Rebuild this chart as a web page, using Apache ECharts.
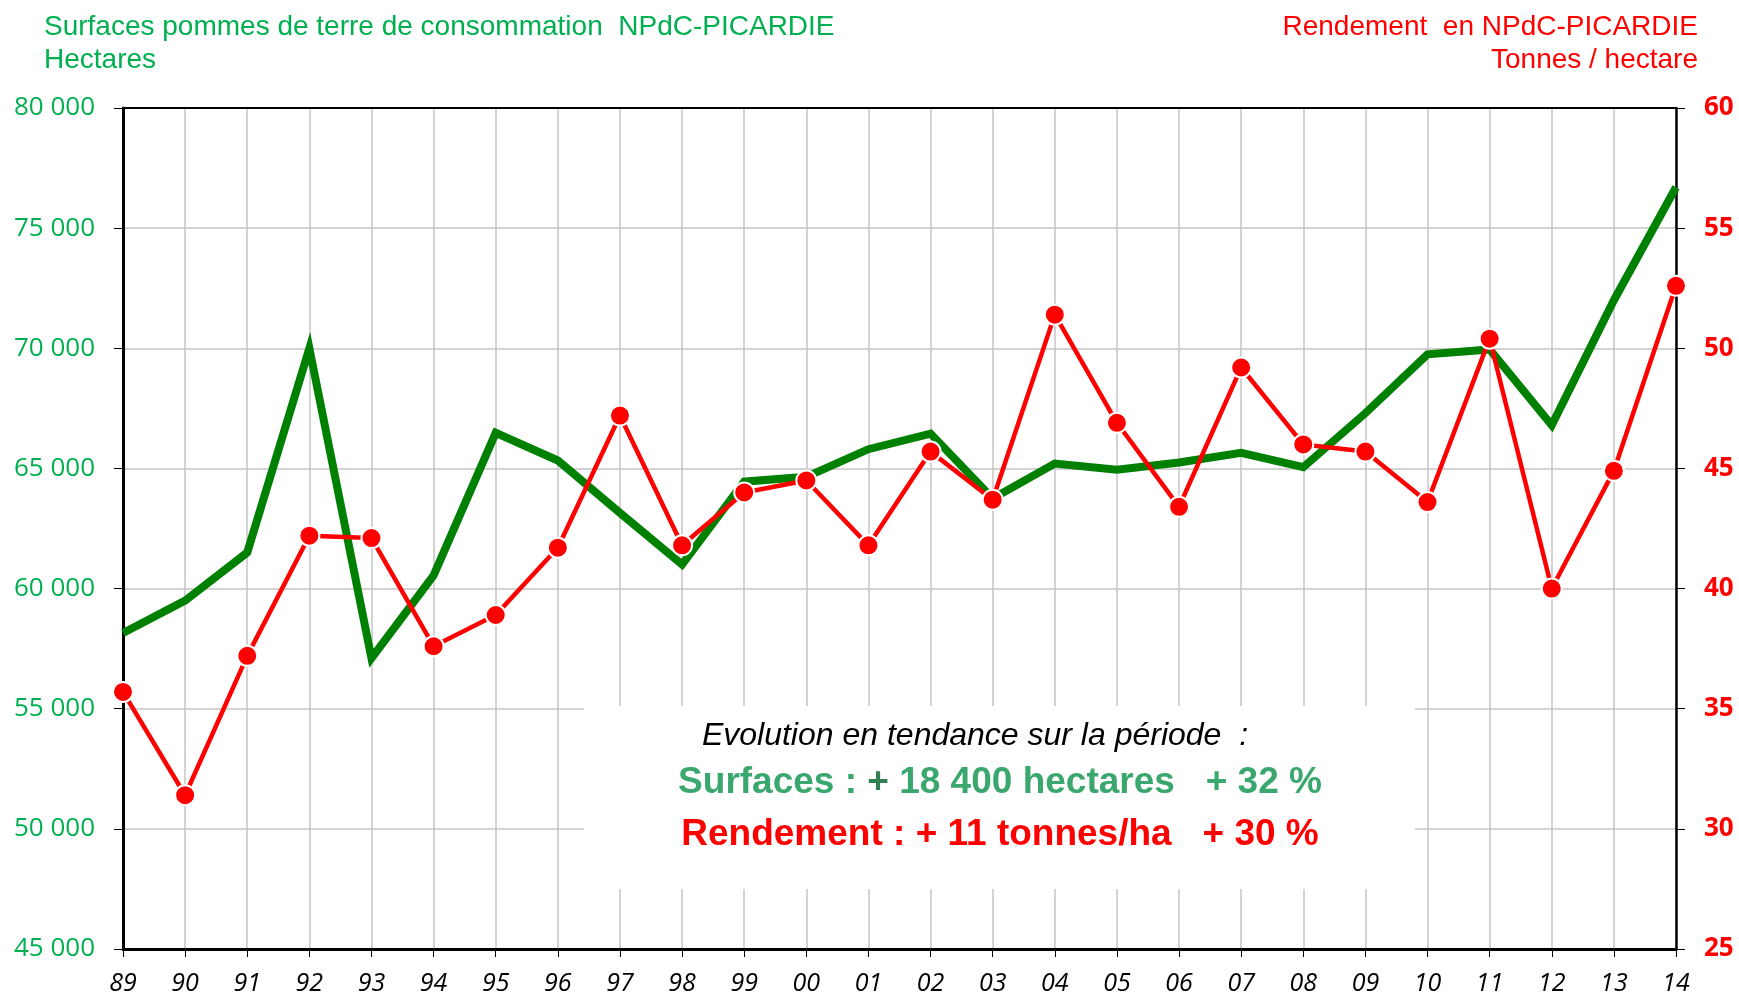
<!DOCTYPE html>
<html>
<head>
    <meta charset="utf-8">
    <title>Surfaces et rendement NPdC-Picardie</title>
    <script src="https://cdn.jsdelivr.net/npm/echarts@6/dist/echarts.min.js"></script>
    <style>
        html, body { margin: 0; padding: 0; background: #fff; }
        #main { width: 1739px; height: 996px; }
    </style>
</head>
<body>
    <div id="main"></div>
    <script type="text/javascript">
        // années (axe x)
        var years = ['89','90','91','92','93','94','95','96','97','98','99','00','01',
                     '02','03','04','05','06','07','08','09','10','11','12','13','14'];
        // surfaces en hectares (axe gauche)
        var surfaces = [58150, 59500, 61500, 70000, 57100, 60550, 66480, 65330, 63150, 61000,
                        64450, 64650, 65800, 66450, 63750, 65200, 64950, 65250, 65650, 65050,
                        67300, 69750, 69950, 66800, 72000, 76700];
        // rendement en t/ha (axe droit)
        var rendement = [35.7, 31.4, 37.2, 42.2, 42.1, 37.6, 38.9, 41.7, 47.2, 41.8,
                         44.0, 44.5, 41.8, 45.7, 43.7, 51.4, 46.9, 43.4, 49.2, 46.0,
                         45.7, 43.6, 50.4, 40.0, 44.9, 52.6];

        var myChart = echarts.init(document.getElementById('main'));

        var option = {
            backgroundColor: '#fff',
            animation: false,
            grid: { left: 123, top: 108, right: 63, bottom: 46 },
            xAxis: [
                {
                    type: 'category',
                    data: years,
                    boundaryGap: false,
                    axisLine: { lineStyle: { color: '#000', width: 3 } },
                    axisTick: { length: 8, lineStyle: { color: '#000', width: 1 } },
                    axisLabel: {
                        margin: 22, color: '#000', fontSize: 25,
                        fontStyle: 'italic', fontFamily: 'Open Sans'
                    },
                    splitLine: { show: true, lineStyle: { color: '#c4c4c4', width: 1.5 } }
                },
                {
                    // bord supérieur du cadre
                    type: 'category', data: years, boundaryGap: false, position: 'top',
                    axisLine: { lineStyle: { color: '#000', width: 2 } },
                    axisTick: { show: false }, axisLabel: { show: false },
                    splitLine: { show: false }
                }
            ],
            yAxis: [
                {
                    type: 'value', min: 45000, max: 80000, interval: 5000,
                    axisLine: { show: true, lineStyle: { color: '#000', width: 3 } },
                    axisTick: { show: true, length: 9, lineStyle: { color: '#000' } },
                    axisLabel: {
                        margin: 28, color: '#00B050', fontSize: 26, fontFamily: 'Open Sans',
                        formatter: function (v) {
                            return String(v).replace(/\B(?=(\d{3})+(?!\d))/g, ' ');
                        }
                    },
                    splitLine: { lineStyle: { color: '#c4c4c4', width: 1.5 } }
                },
                {
                    type: 'value', min: 25, max: 60, interval: 5, position: 'right',
                    axisLine: { show: true, lineStyle: { color: '#000', width: 2.5 } },
                    axisTick: { show: true, length: 9, lineStyle: { color: '#000' } },
                    axisLabel: {
                        margin: 28, color: '#FF0000', fontSize: 26,
                        fontWeight: 'bold', fontFamily: 'Open Sans'
                    },
                    splitLine: { show: false }
                }
            ],
            series: [
                {
                    name: 'Surfaces', type: 'line', yAxisIndex: 0,
                    data: surfaces, showSymbol: false, z: 3,
                    lineStyle: { color: '#008000', width: 8, join: 'miter' }
                },
                {
                    name: 'Rendement', type: 'line', yAxisIndex: 1,
                    data: rendement, symbol: 'circle', symbolSize: 20, z: 4,
                    lineStyle: { color: '#FF0000', width: 4.5 },
                    itemStyle: { color: '#FF0000', borderColor: '#fff', borderWidth: 2 }
                }
            ],
            graphic: [
                {
                    type: 'text', x: 44, y: 11, z: 10,
                    style: {
                        text: 'Surfaces pommes de terre de consommation  NPdC-PICARDIE\nHectares',
                        fill: '#00B050', font: '28px "Liberation Sans"', lineHeight: 33
                    }
                },
                {
                    type: 'text', x: 1698, y: 11, z: 10,
                    style: {
                        text: 'Rendement  en NPdC-PICARDIE',
                        fill: '#FF0000', font: '28px "Liberation Sans"',
                        lineHeight: 33, align: 'right'
                    }
                },
                {
                    type: 'text', x: 1698, y: 44, z: 10,
                    style: {
                        text: 'Tonnes / hectare',
                        fill: '#FF0000', font: '28px "Liberation Sans"',
                        lineHeight: 33, align: 'right'
                    }
                },
                {
                    type: 'rect', z: 5,
                    shape: { x: 584, y: 706, width: 831, height: 183 },
                    style: { fill: '#fff' }
                },
                {
                    type: 'text', x: 975, y: 736, z: 10,
                    style: {
                        text: 'Evolution en tendance sur la période  :',
                        fill: '#000', font: 'italic 32px "Liberation Sans"',
                        align: 'center', verticalAlign: 'middle'
                    }
                },
                {
                    type: 'text', x: 1000, y: 783, z: 10,
                    style: {
                        text: '{a|Surfaces : }{b|+ }{a|18 400 hectares   + 32 %}',
                        align: 'center', verticalAlign: 'middle',
                        rich: {
                            a: { fill: '#3AA86E', font: 'bold 37px "Liberation Sans"' },
                            b: { fill: '#2F7F52', font: 'bold 37px "Liberation Sans"' }
                        }
                    }
                },
                {
                    type: 'text', x: 1000, y: 835, z: 10,
                    style: {
                        text: 'Rendement : + 11 tonnes/ha   + 30 %',
                        fill: '#FF0000', font: 'bold 37px "Liberation Sans"',
                        align: 'center', verticalAlign: 'middle'
                    }
                }
            ]
        };
        myChart.setOption(option);
    </script>
</body>
</html>
